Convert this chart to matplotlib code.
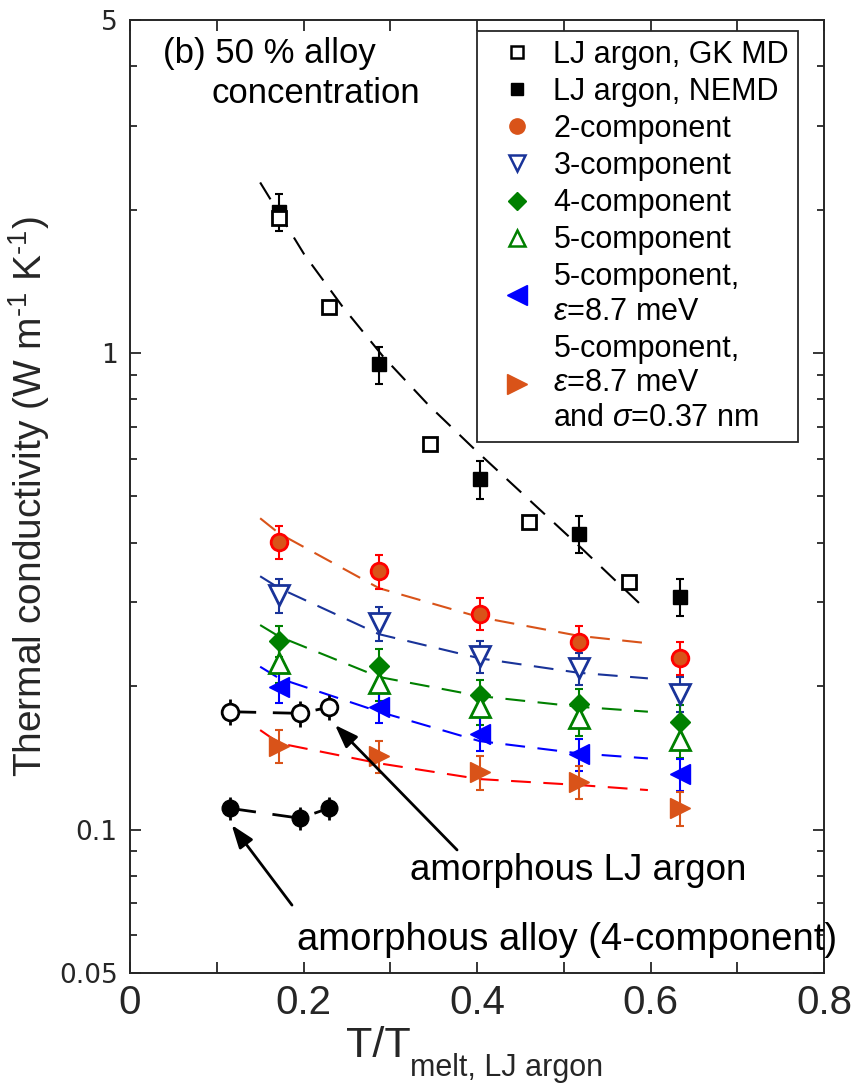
"""Thermal conductivity of LJ argon and alloys vs reduced temperature."""
import matplotlib

matplotlib.use("Agg")
import matplotlib.pyplot as plt  # noqa: E402
from matplotlib import font_manager  # noqa: E402
from matplotlib.lines import Line2D  # noqa: E402

# ---- data ----
x_gk = [0.172, 0.229, 0.346, 0.460, 0.575]
k_gk = [1.92, 1.25, 0.644, 0.442, 0.330]

x_alloy = [0.172, 0.287, 0.403, 0.517, 0.634]
k_nemd = [1.98, 0.947, 0.544, 0.418, 0.308]
err_nemd = [0.18, 0.085, 0.05, 0.038, 0.028]

k_2c = [0.402, 0.348, 0.284, 0.248, 0.229]
err_2c = [0.032, 0.028, 0.022, 0.020, 0.018]
k_3c = [0.310, 0.271, 0.231, 0.218, 0.1925]
err_3c = [0.025, 0.022, 0.018, 0.017, 0.016]
k_4c = [0.249, 0.2207, 0.1915, 0.1834, 0.1684]
err_4c = [0.019, 0.018, 0.014, 0.014, 0.014]
k_5c = [0.224, 0.2027, 0.181, 0.171, 0.154]
err_5c = [0.021, 0.017, 0.015, 0.014, 0.013]
k_5c_eps = [0.199, 0.181, 0.159, 0.144, 0.1307]
err_5c_eps = [0.015, 0.014, 0.013, 0.011, 0.010]
k_5c_eps_sig = [0.1497, 0.1427, 0.1318, 0.126, 0.1108]
err_5c_eps_sig = [0.012, 0.011, 0.011, 0.010, 0.009]

# dashed fit curves, sampled from the figure
fit_x_lj = [0.150, 0.2006, 0.245, 0.292, 0.344, 0.398, 0.5187, 0.590]
fit_k_lj = [2.28, 1.613, 1.251, 0.982, 0.778, 0.626, 0.392, 0.295]
fit_x = [0.150, 0.172, 0.287, 0.403, 0.517, 0.597]
fit_k_2c = [0.450, 0.418, 0.321, 0.279, 0.255, 0.246]
fit_k_3c = [0.340, 0.321, 0.257, 0.2287, 0.2133, 0.2076]
fit_k_4c = [0.2686, 0.254, 0.209, 0.1906, 0.181, 0.1767]
fit_k_5c_eps = [0.2196, 0.2076, 0.1767, 0.1533, 0.1445, 0.141]
fit_k_5c_eps_sig = [0.1617, 0.1517, 0.1377, 0.1276, 0.124, 0.121]

# amorphous phases
x_amorph = [0.115, 0.196, 0.229]
k_amorph_lj = [0.1767, 0.1753, 0.1805]
err_amorph_lj = [0.011, 0.011, 0.011]
k_amorph_alloy = [0.1108, 0.1056, 0.1108]
err_amorph_alloy = [0.006, 0.006, 0.006]

# ---- style ----
ORANGE = "#D95319"
RED = "#FF0000"
NAVY = "#193399"
GREEN = "#008000"
BLUE = "#0000FF"
AXCOL = "#262626"

installed = {f.name for f in font_manager.fontManager.ttflist}
NARROW = "Liberation Sans Narrow" if "Liberation Sans Narrow" in installed else "Liberation Sans"

plt.rcParams["font.family"] = ["Liberation Sans", "DejaVu Sans"]
plt.rcParams["mathtext.fontset"] = "custom"
plt.rcParams["mathtext.rm"] = NARROW
plt.rcParams["mathtext.it"] = "Liberation Sans:italic"
plt.rcParams["mathtext.fallback"] = "cm"

fig = plt.figure(figsize=(8.64, 10.91), dpi=100)
ax = fig.add_axes([0.1505, 0.1082, 0.8032, 0.8735])
ax.set_yscale("log")

dash = (9.5, 6)
eb_kw = dict(fmt="none", elinewidth=1.5, capsize=3, capthick=1.5, zorder=2)

# LJ argon
ax.plot(fit_x_lj, fit_k_lj, color="k", lw=1.5, dashes=dash, zorder=1)
ax.errorbar(x_alloy, k_nemd, yerr=err_nemd, ecolor="k", **eb_kw)
ax.plot(x_alloy, k_nemd, "s", ms=10, color="k", zorder=3)
ax.plot(x_gk, k_gk, "s", ms=10, mfc="white", mec="k", mew=2, zorder=4)

# alloys
series = [
    (fit_k_2c, k_2c, err_2c, ORANGE, RED, dict(marker="o", ms=12, mfc=ORANGE, mec=RED, mew=2)),
    (fit_k_3c, k_3c, err_3c, NAVY, NAVY, dict(marker="v", ms=14, mfc="white", mec=NAVY, mew=2)),
    (fit_k_4c, k_4c, err_4c, GREEN, GREEN, dict(marker="D", ms=10, mfc=GREEN, mec=GREEN, mew=1)),
    (None, k_5c, err_5c, GREEN, GREEN, dict(marker="^", ms=14, mfc="white", mec=GREEN, mew=2)),
    (fit_k_5c_eps, k_5c_eps, err_5c_eps, BLUE, BLUE, dict(marker="<", ms=14, mfc=BLUE, mec=BLUE, mew=1)),
    (fit_k_5c_eps_sig, k_5c_eps_sig, err_5c_eps_sig, RED, ORANGE,
     dict(marker=">", ms=14, mfc=ORANGE, mec=ORANGE, mew=1)),
]
for fit_k, k, err, fit_col, err_col, mkw in series:
    if fit_k is not None:
        ax.plot(fit_x, fit_k, color=fit_col, lw=1.5, dashes=dash, zorder=1)
    ax.errorbar(x_alloy, k, yerr=err, ecolor=err_col, **eb_kw)
    ax.plot(x_alloy, k, ls="none", zorder=3, **mkw)

# amorphous
ax.errorbar(x_amorph, k_amorph_lj, yerr=err_amorph_lj, fmt="none", ecolor="k",
            elinewidth=2, capsize=0, zorder=2)
ax.plot(x_amorph, k_amorph_lj, color="k", lw=2, dashes=dash, marker="o", ms=12,
        mfc="white", mec="k", mew=2, zorder=3)
ax.errorbar(x_amorph, k_amorph_alloy, yerr=err_amorph_alloy, fmt="none", ecolor="k",
            elinewidth=2, capsize=0, zorder=2)
ax.plot(x_amorph, k_amorph_alloy, color="k", lw=2, dashes=dash, marker="o", ms=12,
        mfc="k", mec="k", zorder=3)

# annotations
arrow = dict(arrowstyle="-|>,head_length=0.5,head_width=0.18", color="k", lw=2,
             mutation_scale=28, shrinkA=0, shrinkB=0)
ax.annotate("", xy=(0.2363, 0.1657), xytext=(0.377, 0.0906), arrowprops=arrow)
ax.annotate("", xy=(0.1172, 0.1022), xytext=(0.1867, 0.0694), arrowprops=arrow)
ax.text(0.3228, 0.0822, "amorphous LJ argon", fontsize=26.5, va="center", ha="left")
ax.text(0.1925, 0.0586, "amorphous alloy (4-component)", fontsize=27.5, va="center",
        ha="left", clip_on=False)
ax.text(0.0476, 0.9546, "(b) 50 % alloy", transform=ax.transAxes, fontsize=25,
        va="baseline", ha="left")
ax.text(0.1177, 0.9126, "concentration", transform=ax.transAxes, fontsize=25,
        va="baseline", ha="left")

# axes
ax.set_xlim(0, 0.8)
ax.set_ylim(0.05, 5)
ax.set_xticks([0, 0.2, 0.4, 0.6, 0.8])
ax.set_xticklabels(["0", "0.2", "0.4", "0.6", "0.8"], fontfamily=NARROW, fontsize=29)
ax.set_xticks([0.1, 0.3, 0.5, 0.7], minor=True)
ax.set_yticks([0.05, 0.1, 1, 5])
ax.set_yticklabels(["0.05", "0.1", "1", "5"], fontfamily="DejaVu Sans", fontsize=19)
ax.set_yticks([0.06, 0.07, 0.08, 0.09, 0.2, 0.3, 0.4, 0.5, 0.6, 0.7, 0.8, 0.9, 2, 3, 4],
              minor=True)
ax.yaxis.set_minor_formatter(plt.NullFormatter())
ax.tick_params(which="both", direction="in", top=True, right=True, color=AXCOL,
               labelcolor=AXCOL, width=1.3)
ax.tick_params(which="major", length=8)
ax.tick_params(axis="x", which="minor", length=8)
ax.tick_params(axis="y", which="minor", length=5)
ax.tick_params(axis="x", pad=8)
ax.tick_params(axis="y", pad=9)
for s in ax.spines.values():
    s.set_color(AXCOL)
    s.set_linewidth(1.4)

# x label: "T/T" with a deep subscript, as in the original
ax.set_xlabel("T/T", fontfamily=NARROW, fontsize=31, color=AXCOL, ha="right",
              va="baseline")
ax.xaxis.set_label_coords(0.404, -0.0885)
ax.text(0.404, -0.108, "melt, LJ argon", transform=ax.transAxes, fontfamily=NARROW,
        fontsize=22, color=AXCOL, ha="left", va="baseline")
ax.set_ylabel("Thermal conductivity (W m$^{\\text{-1}}$ K$^{\\text{-1}}$)",
              fontfamily=NARROW, fontsize=28, color=AXCOL, labelpad=5)

# legend
handles = [
    Line2D([], [], ls="none", marker="s", ms=8, mfc="white", mec="k", mew=1.8),
    Line2D([], [], ls="none", marker="s", ms=8, mfc="k", mec="k"),
    Line2D([], [], ls="none", marker="o", ms=11, mfc=ORANGE, mec=ORANGE),
    Line2D([], [], ls="none", marker="v", ms=12, mfc="white", mec=NAVY, mew=1.8),
    Line2D([], [], ls="none", marker="D", ms=9, mfc=GREEN, mec=GREEN),
    Line2D([], [], ls="none", marker="^", ms=12, mfc="white", mec=GREEN, mew=1.8),
    Line2D([], [], ls="none", marker="<", ms=14, mfc=BLUE, mec=BLUE),
    Line2D([], [], ls="none", marker=">", ms=14, mfc=ORANGE, mec=ORANGE),
]
labels = [
    "LJ argon, GK MD",
    "LJ argon, NEMD",
    "2-component",
    "3-component",
    "4-component",
    "5-component",
    "5-component,\n$\\varepsilon$=8.7 meV",
    "5-component,\n$\\varepsilon$=8.7 meV\nand $\\sigma$=0.37 nm",
]
leg = ax.legend(handles, labels, loc="upper left", bbox_to_anchor=(0.5, 0.9885),
                borderaxespad=0, fontsize=22, handlelength=2.0, handletextpad=0.2,
                labelspacing=0.23, borderpad=0.3, fancybox=False, framealpha=1,
                edgecolor=AXCOL)
leg.get_frame().set_linewidth(1.3)
for t in leg.get_texts():
    t.set_linespacing(1.2)

fig.savefig("out.png", dpi=100)
plt.close(fig)
